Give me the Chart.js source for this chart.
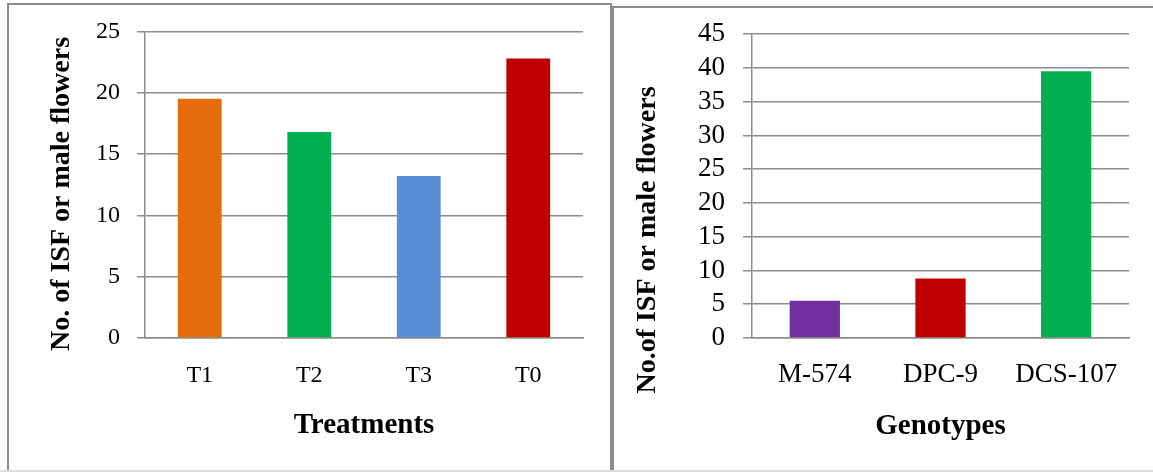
<!DOCTYPE html>
<html>
<head>
<meta charset="utf-8">
<script src="https://cdn.jsdelivr.net/npm/chart.js@4.4.1/dist/chart.umd.min.js"></script>
<style>
    body { margin: 0; background: #fff; width: 1153px; height: 472px; overflow: hidden; position: relative; }
    .panel { position: absolute; border: 2px solid #8c8c8c; box-sizing: border-box; }
    #leftPanel { left: 7px; top: 3px; width: 605px; height: 480px; }
    #rightPanel { left: 612px; top: 6px; width: 560px; height: 480px; }
    #baseLine { position: absolute; left: 0; top: 470px; width: 1153px; height: 2px; background: #dcdcdc; }
    canvas { position: absolute; top: 0; }
    #treatmentChart { left: 0; }
    #genotypeChart { left: 614px; }
</style>
</head>
<body>
<div class="panel" id="leftPanel"></div>
<div class="panel" id="rightPanel"></div>
<div id="baseLine"></div>
<canvas id="treatmentChart" width="610" height="472"></canvas>
<canvas id="genotypeChart" width="539" height="472"></canvas>
<script>
// ISF / male flower counts per treatment
const treatmentLabels = ['T1', 'T2', 'T3', 'T0'];
const treatmentValues = [19.5, 16.8, 13.2, 22.8];
const treatmentColors = ['#E46C0A', '#00B050', '#558ED5', '#C00000'];

// ISF / male flower counts per genotype
const genotypeLabels = ['M-574', 'DPC-9', 'DCS-107'];
const genotypeValues = [5.5, 8.8, 39.5];
const genotypeColors = ['#7030A0', '#C00000', '#00B050'];

const serif = "'Liberation Serif', 'Times New Roman', serif";
const gridGray = '#8c8c8c';

// rotated y axis title, drawn at a fixed spot
const yTitlePlugin = {
    id: 'yTitle',
    afterDraw(chart, args, opts) {
        const ctx = chart.ctx;
        ctx.save();
        ctx.translate(opts.x, opts.y);
        ctx.rotate(-Math.PI / 2);
        ctx.font = 'bold ' + opts.size + 'px ' + serif;
        ctx.fillStyle = '#000';
        ctx.textAlign = 'center';
        ctx.textBaseline = 'alphabetic';
        ctx.fillText(opts.text, 0, 0);
        ctx.restore();
    }
};

function makeChart(el, cfg) {
    return new Chart(el, {
        type: 'bar',
        data: {
            labels: cfg.labels,
            datasets: [{
                data: cfg.values,
                backgroundColor: cfg.colors,
                barPercentage: 0.4,
                categoryPercentage: 1
            }]
        },
        options: {
            responsive: false,
            animation: false,
            layout: { padding: { top: cfg.top, right: cfg.right, left: 0, bottom: 0 } },
            plugins: {
                legend: { display: false },
                tooltip: { enabled: false },
                yTitle: cfg.yTitle
            },
            scales: {
                x: {
                    grid: { display: false, drawTicks: false },
                    border: { display: true, color: gridGray, width: 1.5 },
                    ticks: {
                        color: '#000',
                        padding: cfg.xTickPad,
                        font: { family: serif, size: cfg.tickSize }
                    },
                    title: {
                        display: true,
                        text: cfg.xTitle,
                        color: '#000',
                        padding: { top: 0, bottom: cfg.xTitlePad },
                        font: { family: serif, size: cfg.xTitleSize, weight: 'bold' }
                    },
                    afterFit: (scale) => { scale.height = cfg.xHeight; }
                },
                y: {
                    min: 0,
                    max: cfg.max,
                    grid: { color: gridGray, lineWidth: 1.5, tickLength: cfg.tickLen },
                    border: { display: true, color: gridGray, width: 1.5 },
                    ticks: {
                        stepSize: 5,
                        autoSkip: false,
                        color: '#000',
                        padding: cfg.yTickPad,
                        font: { family: serif, size: cfg.tickSize }
                    },
                    afterFit: (scale) => { scale.width = cfg.yWidth; }
                }
            }
        },
        plugins: [yTitlePlugin]
    });
}

makeChart(document.getElementById('treatmentChart'), {
    labels: treatmentLabels,
    values: treatmentValues,
    colors: treatmentColors,
    max: 25,
    top: 30, right: 27,
    yWidth: 145, xHeight: 134,
    tickLen: 8, yTickPad: 17, xTickPad: 23,
    tickSize: 24,
    xTitle: 'Treatments', xTitleSize: 29, xTitlePad: 29,
    yTitle: { text: 'No. of ISF or male flowers', x: 69, y: 194, size: 28 }
});

makeChart(document.getElementById('genotypeChart'), {
    labels: genotypeLabels,
    values: genotypeValues,
    colors: genotypeColors,
    max: 45,
    top: 34, right: 24,
    yWidth: 138, xHeight: 134,
    tickLen: 9, yTickPad: 18, xTickPad: 21,
    tickSize: 27,
    xTitle: 'Genotypes', xTitleSize: 29, xTitlePad: 28,
    yTitle: { text: 'No.of ISF or male flowers', x: 41, y: 240, size: 28 }
});
</script>
</body>
</html>
